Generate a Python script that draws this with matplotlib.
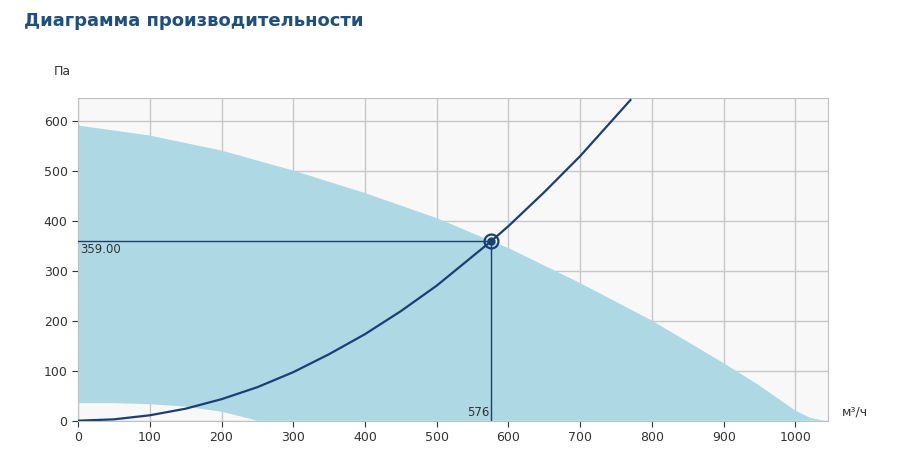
import matplotlib
matplotlib.use("Agg")
import matplotlib.pyplot as plt

# upper boundary of the fan working area
fan_x = [0, 100, 200, 300, 400, 500, 576, 600, 700, 800, 900, 950, 1000, 1020, 1040]
fan_y = [590, 570, 540, 500, 455, 405, 359, 345, 275, 200, 115, 70, 20, 6, 0]
# lower boundary
low_x = [0, 50, 100, 150, 200, 250, 1040]
low_y = [35, 35, 33, 28, 18, 0, 0]
# system curve
sys_x = [0, 50, 100, 150, 200, 250, 300, 350, 400, 450, 500, 576, 600, 650, 700, 770]
sys_y = [0, 2.7, 10.8, 24, 43, 67, 97, 133, 173, 219, 270, 359, 389, 457, 529, 641]
work_x, work_y = 576, 359

navy = "#1b3f73"
fig = plt.figure(figsize=(9, 4.69), dpi=100)
ax = fig.add_axes([0.0867, 0.103, 0.833, 0.688])
ax.set_facecolor("#f8f8f8")

upper = list(zip(fan_x, fan_y))
lower = list(zip(low_x, low_y))[::-1]
poly = upper + lower
ax.fill([p[0] for p in poly], [p[1] for p in poly], color="#aed8e3", lw=0, zorder=1)

ax.plot(sys_x, sys_y, color=navy, lw=1.6, zorder=3)
ax.plot([0, work_x], [work_y, work_y], color=navy, lw=1, zorder=3)
ax.plot([work_x, work_x], [0, work_y], color=navy, lw=1, zorder=3)
ax.plot(work_x, work_y, "o", ms=10, mfc="none", mec=navy, mew=1.6, zorder=4)
ax.plot(work_x, work_y, "o", ms=5, color=navy, zorder=4)
ax.text(3, work_y - 4, f"{work_y:.2f}", fontsize=8.5, va="top", color="#333333")
ax.text(work_x - 3, 3, str(work_x), fontsize=8.5, ha="right", va="bottom", color="#333333")

ax.set_xlim(0, 1045)
ax.set_ylim(0, 645)
ax.set_xticks(range(0, 1001, 100))
ax.set_yticks(range(0, 601, 100))
ax.grid(True, color="#c8c8c8", lw=1)
ax.set_axisbelow(True)
for s in ax.spines.values():
    s.set_color("#c0c0c0")
ax.tick_params(colors="#333333", labelsize=9, length=4)
for t in ax.get_xticklines() + ax.get_yticklines():
    t.set_color("#c0c0c0")

fig.text(0.06, 0.84, "Па", fontsize=9, color="#333333")
fig.text(0.935, 0.115, "м³/ч", fontsize=9, color="#333333")
fig.text(0.027, 0.955, "Диаграмма производительности", fontsize=13,
         fontweight="bold", color="#1f4f7e", va="center")

fig.savefig("out.png", dpi=100)
